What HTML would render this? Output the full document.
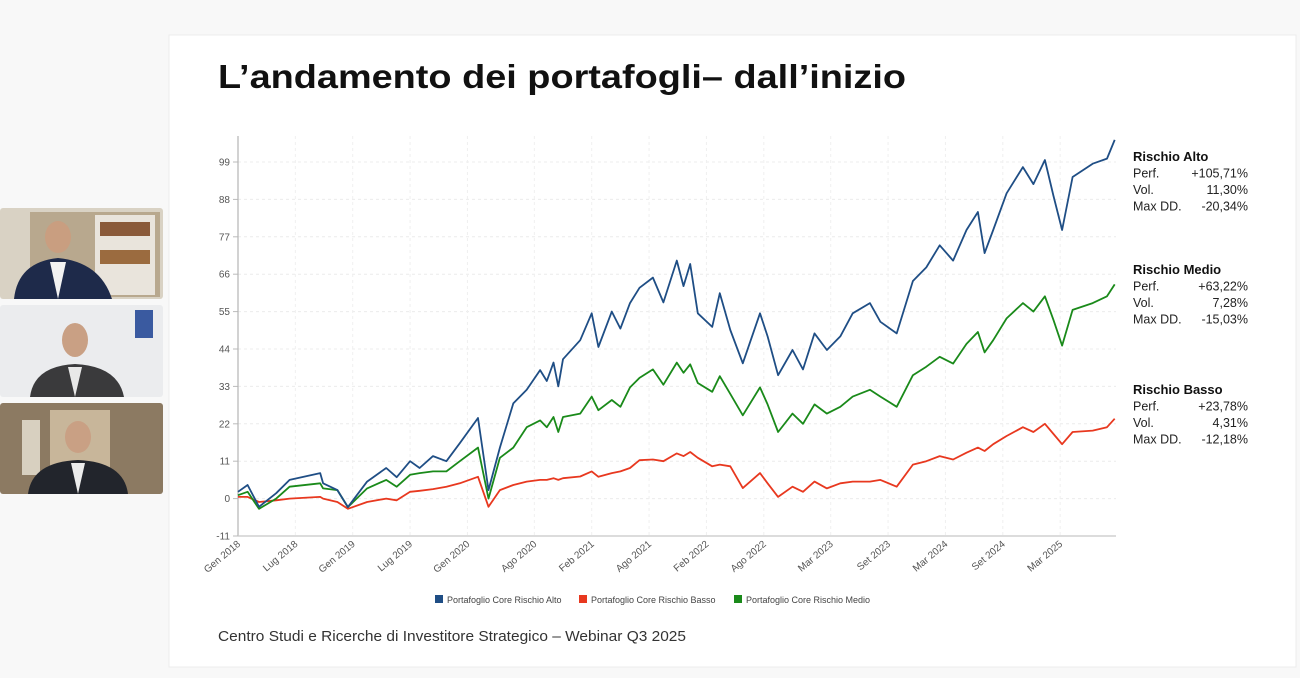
<!DOCTYPE html>
<html><head><meta charset="utf-8"><style>
html,body{margin:0;padding:0;background:#f8f8f8;}
svg{display:block;font-family:"Liberation Sans",sans-serif;}
</style></head><body>
<svg id="root" width="1300" height="678" viewBox="0 0 1300 678" xmlns="http://www.w3.org/2000/svg">
  <rect x="0" y="0" width="1300" height="678" fill="#f8f8f8"/>
  <!-- participant thumbnails -->
  <g>
    <rect x="0" y="208" width="163" height="91" rx="3" fill="#d9d2c4"/>
    <rect x="30" y="212" width="130" height="85" fill="#b8a88e"/>
    <rect x="95" y="215" width="60" height="80" fill="#e9e4dc"/>
    <rect x="100" y="222" width="50" height="14" fill="#8a5a3a"/>
    <rect x="100" y="250" width="50" height="14" fill="#9b6b3f"/>
    <ellipse cx="58" cy="237" rx="13" ry="16" fill="#c99e80"/>
    <path d="M14 299 Q18 262 58 258 Q100 262 112 299 Z" fill="#1e2a4a"/>
    <path d="M50 262 L58 299 L66 262 Z" fill="#f2f2f2"/>
  </g>
  <g>
    <rect x="0" y="305" width="163" height="92" rx="3" fill="#ebecee"/>
    <rect x="135" y="310" width="18" height="28" fill="#3a5aa0"/>
    <ellipse cx="75" cy="340" rx="13" ry="17" fill="#c9a084"/>
    <path d="M30 397 Q34 366 75 364 Q118 366 124 397 Z" fill="#3a3a3c"/>
    <path d="M68 367 L75 397 L82 367 Z" fill="#e8e8e8"/>
  </g>
  <g>
    <rect x="0" y="403" width="163" height="91" rx="3" fill="#8c7a62"/>
    <rect x="50" y="410" width="60" height="70" fill="#c8b69a"/>
    <rect x="22" y="420" width="18" height="55" fill="#d8d0c0"/>
    <ellipse cx="78" cy="437" rx="13" ry="16" fill="#c9a084"/>
    <path d="M28 494 Q32 462 78 460 Q124 462 128 494 Z" fill="#22252c"/>
    <path d="M71 463 L78 494 L85 463 Z" fill="#ececec"/>
  </g>
  <!-- slide -->
  <rect x="169" y="35" width="1127" height="632" fill="#ffffff" stroke="#ececec"/>
  <text x="218" y="88" font-size="33" font-weight="bold" fill="#111" textLength="688" lengthAdjust="spacingAndGlyphs">L’andamento dei portafogli– dall’inizio</text>
  <text x="218" y="641" font-size="14.5" fill="#333" textLength="468" lengthAdjust="spacingAndGlyphs">Centro Studi e Ricerche di Investitore Strategico – Webinar Q3 2025</text>
  <g id="grid"></g>
  <g id="yaxis"></g>
  <g id="xaxis"></g>
  <g id="series"></g>
  <g id="legend"></g>
  <g id="stats"></g>
</svg>
<script>
const yTicks = [-11,0,11,22,33,44,55,66,77,88,99];
const xTickLabels = ["Gen 2018","Lug 2018","Gen 2019","Lug 2019","Gen 2020","Ago 2020","Feb 2021","Ago 2021","Feb 2022","Ago 2022","Mar 2023","Set 2023","Mar 2024","Set 2024","Mar 2025"];
const xTickMonths = [0,6,12,18,24,31,37,43,49,55,62,68,74,80,86];
const months = [0,1,2.2,4,5.4,8.6,8.9,10.4,11.5,13.5,15.5,16.6,18,19,20.4,21.8,23.2,25.1,26.2,27.4,28.8,30.2,31.6,32.3,33,33.5,34,35.8,37,37.7,39.1,40,41,42,43.4,44.5,45.9,46.6,47.3,48.1,49.6,50.4,51.5,52.8,54.6,55.4,56.5,58,59.1,60.3,61.6,63,64.3,66.1,67.2,68.9,70.6,72,73.4,74.8,76.2,77.4,78.1,79,80.4,82.1,83.2,84.4,85.3,86.2,87.3,89.4,90.9,91.7];
const alto = [2,4,-2.4,1.6,5.5,7.5,4.5,2.5,-2.5,5,9,6.3,11,9,12.5,11,16.3,23.7,2.5,15,28,32,37.8,34.6,40,33,41,46.6,54.5,44.6,55,50,57.5,62,65,57.7,70,62.5,69,54.5,50.5,60.4,49.6,39.8,54.5,47.7,36.3,43.7,38,48.6,43.7,47.7,54.5,57.5,52,48.6,64,68,74.5,70,79,84.3,72.2,79,89.8,97.5,92.5,99.6,89,79,94.6,98.5,100,105.5];
const medio = [1,2,-3,0,3.5,4.5,3,2.5,-2.5,3,5.5,3.5,7,7.5,8,8,11,15,0,12,15,21,23,21,24,19.6,24,25,30,26,29,27,32.7,35.5,38,33.5,40,37,39.5,34,31.4,36,30.8,24.5,32.7,27.7,19.6,25,22,27.7,25,27,30,32,30,27,36.3,38.8,41.7,39.7,45.5,49,43,46.6,53,57.5,55,59.5,52.5,45,55.5,57.5,59.5,63];
const basso = [0.5,0.5,-1,-0.5,0,0.5,0,-1,-3,-1,0,-0.5,2,2.3,2.8,3.5,4.5,6.4,-2.4,2.5,4,5,5.5,5.5,6,5.5,6,6.5,8,6.4,7.5,8,9,11.3,11.5,11,13.3,12.5,13.7,12,9.5,10,9.5,3.1,7.5,4.5,0.5,3.5,2,5,3,4.5,5,5,5.5,3.5,10,11,12.5,11.5,13.5,15,14,16,18.4,21,19.6,22,19,16,19.6,20,21,23.5];
const seriesNames = ["Portafoglio Core Rischio Alto","Portafoglio Core Rischio Basso","Portafoglio Core Rischio Medio"];

const NS="http://www.w3.org/2000/svg";
const X0=238, PXM=9.56, Y0=498.6, PXU=3.4, XEND=1116;
const xs=m=>X0+m*PXM, ys=v=>Y0-v*PXU;
function mk(tag,attrs,parent){const e=document.createElementNS(NS,tag);for(const k in attrs)e.setAttribute(k,attrs[k]);parent.appendChild(e);return e;}
const grid=document.getElementById('grid'), ya=document.getElementById('yaxis'), xa=document.getElementById('xaxis');
yTicks.forEach(v=>{
  const y=ys(v);
  if(v!==-11){const g=mk('line',{x1:X0,x2:XEND,y1:y,y2:y,stroke:'#ececec','stroke-dasharray':'3,3'},grid);
  
  }
  const tk=mk('line',{x1:X0-5,x2:X0,y1:y,y2:y,stroke:'#bbb'},ya);
  
  
  const t=mk('text',{x:X0-8,y:y+3.5,'font-size':10,fill:'#555','text-anchor':'end'},ya);
  t.textContent=v;
  
  
});
xTickMonths.forEach((m,i)=>{
  const x=xs(m);
  const g=mk('line',{x1:x,x2:x,y1:136,y2:536,stroke:'#f0f0f0','stroke-dasharray':'3,3'},grid);
  
  
  const t=mk('text',{x:x+3,y:545,'font-size':10,fill:'#555','text-anchor':'end',transform:`rotate(-40 ${x+3} 545)`},xa);
  t.textContent=xTickLabels[i];
  
  
});
const axl=mk('line',{x1:X0,x2:X0,y1:136,y2:536,stroke:'#b5b5b5','stroke-width':1.2},ya);


const axb=mk('line',{x1:X0,x2:XEND,y1:536,y2:536,stroke:'#c8c8c8','stroke-width':1.2},xa);



const sg=document.getElementById('series');
[[basso,'#e8381f','line-rischio-basso'],[medio,'#1a8a1a','line-rischio-medio'],[alto,'#1f4e85','line-rischio-alto']].forEach(([vals,col,name])=>{
  const pts=vals.map((v,i)=>xs(months[i]).toFixed(1)+','+ys(v).toFixed(1)).join(' ');
  const p=mk('polyline',{points:pts,fill:'none',stroke:col,'stroke-width':1.8,'stroke-linejoin':'round'},sg);
  
  
});

const lg=document.getElementById('legend');
const lcol=['#1f4e85','#e8381f','#1a8a1a'], lx=[435,579,734];
seriesNames.forEach((n,i)=>{
  const r=mk('rect',{x:lx[i],y:595,width:8,height:8,fill:lcol[i]},lg);
  
  
  const t=mk('text',{x:lx[i]+12,y:603,'font-size':9,fill:'#444'},lg);
  t.textContent=n;
  
  
});

const statTitles=["Rischio Alto","Rischio Medio","Rischio Basso"];
const statLabels=["Perf.","Vol.","Max DD."];
const statValues=[["+105,71%","11,30%","-20,34%"],["+63,22%","7,28%","-15,03%"],["+23,78%","4,31%","-12,18%"]];
const statY=[161,274,394];
const st=document.getElementById('stats');
statTitles.forEach((tt,i)=>{
  const y=statY[i];
  const h=mk('text',{x:1133,y:y,'font-size':13,'font-weight':'bold',fill:'#111'},st);
  h.textContent=tt;
  
  
  statLabels.forEach((l,j)=>{
    const a=mk('text',{x:1133,y:y+16.5*(j+1),'font-size':12.5,fill:'#222'},st);
    a.textContent=l;
    
    
    const b=mk('text',{x:1248,y:y+16.5*(j+1),'font-size':12.5,fill:'#222','text-anchor':'end'},st);
    b.textContent=statValues[i][j];
    
    
  });
});
</script>
</body></html>
